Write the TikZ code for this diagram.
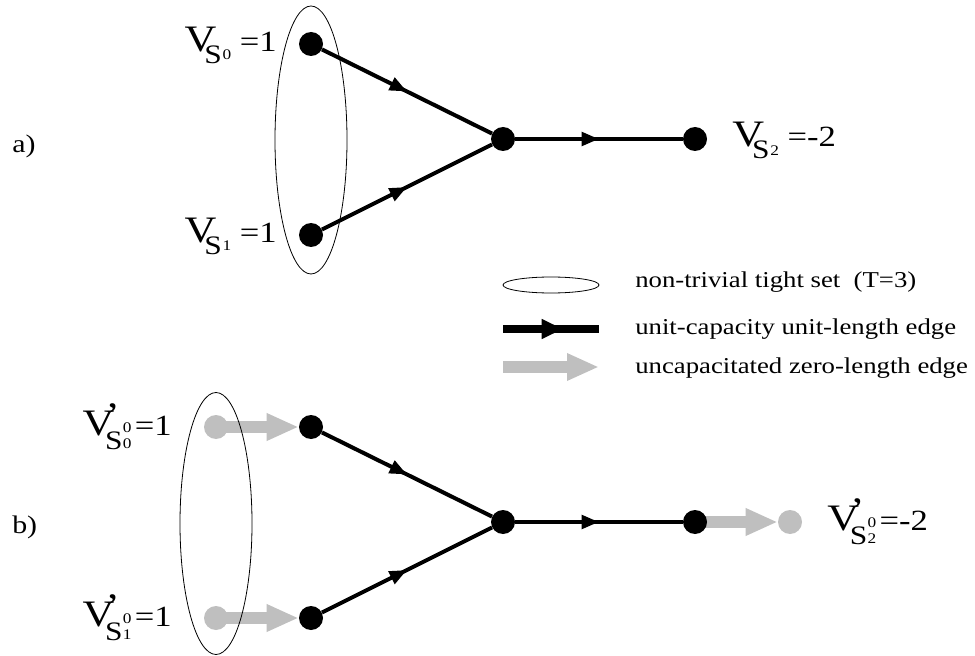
\documentclass[tikz,border=0pt]{standalone}
\usepackage{fontspec}
\setmainfont{Liberation Serif}[FakeStretch=1.18]
\usetikzlibrary{arrows.meta,positioning,calc,shapes.geometric,decorations.markings}
\pgfdeclarelayer{bg}
\pgfsetlayers{bg,main}

% V_{S_i} =v  and  V'_{S^0_i} =v
\newcommand{\Vlab}[2]{%
  {\fontsize{28}{28}\selectfont V}\kern-9pt%
  \raisebox{-8.5pt}{\fontsize{20}{20}\selectfont S}\kern0.5pt%
  \raisebox{-6pt}{\fontsize{11}{11}\selectfont #1} =#2}
\newcommand{\Vplab}[2]{%
  {\fontsize{28}{28}\selectfont V\kern-7pt\rlap{\raisebox{5pt}{’}}}\kern0pt%
  \raisebox{-10.5pt}{\fontsize{20}{20}\selectfont S}\kern0.3pt%
  \rlap{\raisebox{2.25pt}{\fontsize{11}{11}\selectfont 0}}%
  \raisebox{-9.75pt}{\fontsize{11}{11}\selectfont #1}\kern2.5pt=#2}

\begin{document}
\begin{tikzpicture}[
  x=0.75pt, y=-0.75pt,
  dot/.style={circle, fill=black, inner sep=0pt, minimum size=18pt},
  gdot/.style={dot, fill=black!25},
  tset/.style={draw=black, line width=0.6pt, ellipse, inner sep=0pt,
               minimum width=54pt},
  uedge/.style={line width=3pt, postaction={decorate},
                decoration={markings, mark=at position 0.5 with
                  {\arrow{Triangle[length=13pt,width=10pt]}}}},
  legedge/.style={line width=6pt, postaction={decorate},
                  decoration={markings, mark=at position 0.625 with
                    {\arrow{Triangle[length=16pt,width=14pt]}}}},
  zedge/.style={draw=black!25, line width=8.5pt,
                -{Triangle[length=24pt,width=19pt]}},
  lab/.style={font=\fontsize{22}{26}\selectfont, inner sep=0pt},
  tag/.style={font=\fontsize{19}{22}\selectfont, inner sep=0pt, anchor=base west},
  legtxt/.style={font=\fontsize{17}{20}\selectfont, inner sep=0pt, anchor=base west}
]
\useasboundingbox (0,0) rectangle (975,656);

% ===== column coordinates =====
\def\xSrc{311}     % source column
\def\xMid{503}     % middle node
\def\xOut{695}     % sink column
\def\xGin{216}     % gray copies on the left
\def\xGout{790}    % gray copy on the right

% ===== a) =====
\node[tag] (ta) at (12,153) {a)};
\node[dot] (a0) at (\xSrc, 44) {};
\node[dot] (a1) at (\xSrc, 235) {};
\node[dot] (am) at (\xMid, 139) {};
\node[dot] (a2) at (\xOut, 139) {};
\draw[uedge] (a0) -- (am);
\draw[uedge] (a1) -- (am);
\draw[uedge] (am) -- (a2);
\node[lab, anchor=base east] (la0) at ($(a0)+(-34,8)$) {\Vlab{0}{1}};
\node[lab, anchor=base east] (la1) at ($(a1)+(-34,8)$) {\Vlab{1}{1}};
\node[lab, anchor=base west] (la2) at ($(a2)+(37,8)$) {\Vlab{2}{-2}};
\node[tset, minimum height=201pt] (Ta) at (\xSrc, 140) {};

% ===== legend =====
\node[tset, minimum width=72pt, minimum height=12pt] (Lset) at (551, 285) {};
\coordinate (l1s) at (503, 329);
\coordinate (l1e) at (599, 329);
\coordinate (l2s) at (503, 367);
\coordinate (l2e) at (599, 367);
\draw[legedge] (l1s) -- (l1e);
\draw[zedge] (l2s) -- (l2e);
\node[legtxt] (t0) at (635, 287) {non-trivial tight set\ \ (T=3)};
\node[legtxt] (t1) at (635, 334) {unit-capacity unit-length edge};
\node[legtxt] (t2) at (635, 373) {uncapacitated zero-length edge};

% ===== b) =====
\node[tag] (tb) at (12,533) {b)};
\node[dot] (b0) at (\xSrc, 427) {};
\node[dot] (b1) at (\xSrc, 618) {};
\node[dot] (bm) at (\xMid, 522) {};
\node[dot] (b2) at (\xOut, 522) {};
\node[gdot] (g0) at (\xGin, 427) {};
\node[gdot] (g1) at (\xGin, 618) {};
\node[gdot] (g2) at (\xGout, 522) {};
\draw[uedge] (b0) -- (bm);
\draw[uedge] (b1) -- (bm);
\draw[uedge] (bm) -- (b2);
\begin{pgfonlayer}{bg}
  \draw[zedge] (g0.center) -- (b0);
  \draw[zedge] (g1.center) -- (b1);
  \draw[zedge] (b2.center) -- (g2);
\end{pgfonlayer}
\node[lab, anchor=base east] (lg0) at ($(g0)+(-44,8)$) {\Vplab{0}{1}};
\node[lab, anchor=base east] (lg1) at ($(g1)+(-44,8)$) {\Vplab{1}{1}};
\node[lab, anchor=base west] (lg2) at ($(g2)+(37,8)$) {\Vplab{2}{-2}};
\node[tset, minimum height=196.5pt] (Tb) at (\xGin, 523.5) {};

\end{tikzpicture}
\end{document}
